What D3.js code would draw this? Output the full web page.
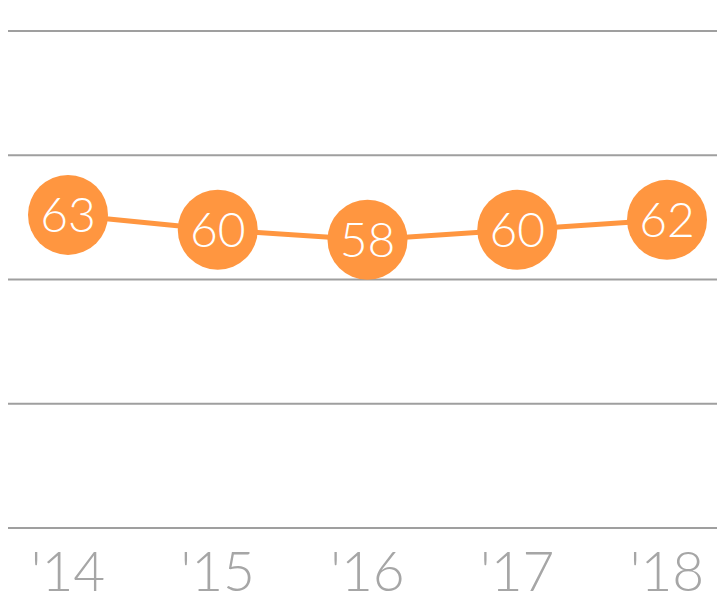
<!DOCTYPE html>
<html>
<head>
<meta charset="utf-8">
<script src="https://cdn.jsdelivr.net/npm/d3@7"></script>
<style>
  body { margin: 0; background: #fff; }
  svg text { font-family: "Lato", "Roboto", sans-serif; font-weight: 300; }
</style>
</head>
<body>
<div id="chart"></div>
<script>
const years = ["'14", "'15", "'16", "'17", "'18"];
const values = [63, 60, 58, 60, 62];
const gridTicks = [0, 25, 50, 75, 100];

const width = 717, height = 598;
const margin = { top: 31, right: 0, bottom: 70, left: 8 };

const svg = d3.select("#chart")
  .append("svg")
  .attr("width", width)
  .attr("height", height);

const x = d3.scalePoint()
  .domain(years)
  .range([68, 667]);

const y = d3.scaleLinear()
  .domain([0, 100])
  .range([height - margin.bottom, margin.top]);

// gridlines
svg.append("g")
  .selectAll("line")
  .data(gridTicks)
  .enter()
  .append("line")
  .attr("x1", margin.left)
  .attr("x2", width - margin.right)
  .attr("y1", d => y(d))
  .attr("y2", d => y(d))
  .attr("stroke", "#9f9f9f")
  .attr("stroke-width", 2);

const data = years.map((yr, i) => ({ year: yr, value: values[i] }));

const line = d3.line()
  .x(d => x(d.year))
  .y(d => y(d.value));

svg.append("path")
  .datum(data)
  .attr("fill", "none")
  .attr("stroke", "#ff9640")
  .attr("stroke-width", 5)
  .attr("d", line);

const pts = svg.append("g")
  .selectAll("g")
  .data(data)
  .enter()
  .append("g")
  .attr("transform", d => `translate(${x(d.year)},${y(d.value)})`);

pts.append("circle")
  .attr("r", 40)
  .attr("fill", "#ff9640");

pts.append("text")
  .attr("text-anchor", "middle")
  .attr("dy", "0.36em")
  .attr("fill", "#fff")
  .attr("font-size", 48)
  .text(d => d.value);

// x labels
svg.append("g")
  .selectAll("text")
  .data(years)
  .enter()
  .append("text")
  .attr("x", d => x(d))
  .attr("y", 591)
  .attr("text-anchor", "middle")
  .attr("fill", "#a6a6a6")
  .attr("font-size", 55)
  .text(d => d);
</script>
</body>
</html>
